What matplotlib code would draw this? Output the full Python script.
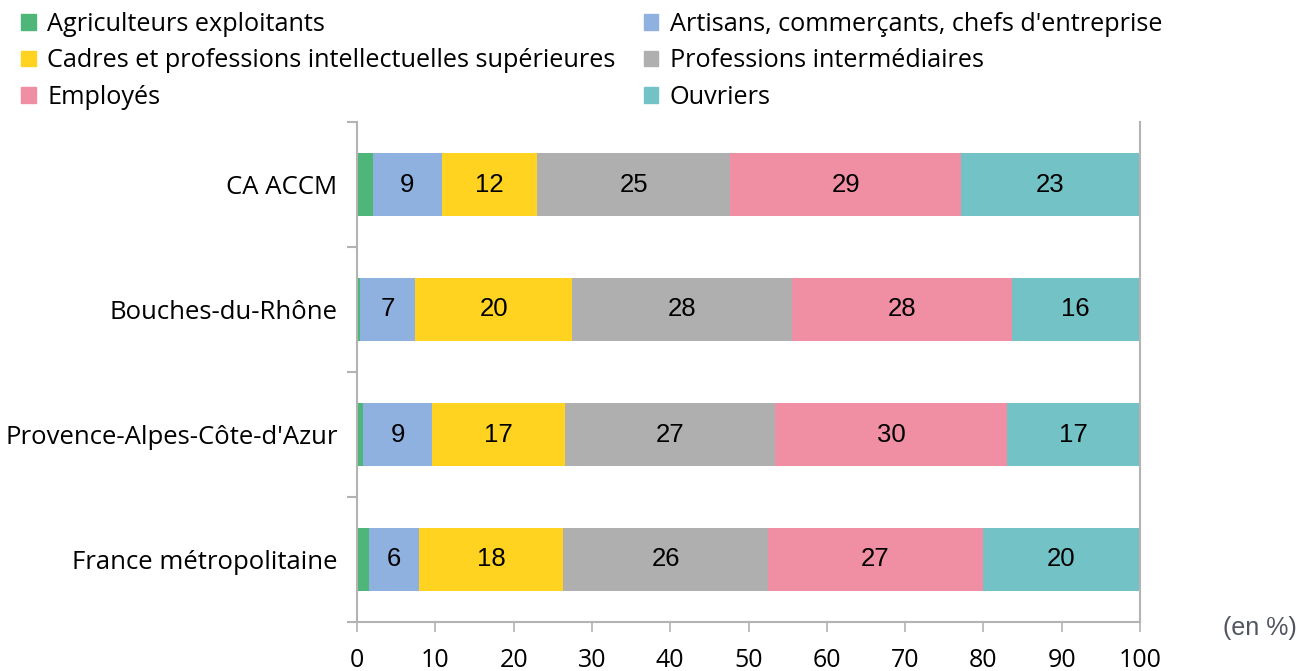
import numpy as np
import matplotlib.pyplot as plt
from matplotlib.patches import Patch

categories = ["CA ACCM", "Bouches-du-Rhône", "Provence-Alpes-Côte-d'Azur", "France métropolitaine"]
groups = ["Agriculteurs exploitants", "Artisans, commerçants, chefs d'entreprise",
          "Cadres et professions intellectuelles supérieures", "Professions intermédiaires",
          "Employés", "Ouvriers"]
agriculteurs = [2.0, 0.4, 0.8, 1.5]
artisans = [8.8, 7.0, 8.8, 6.4]
cadres = [12.2, 20.1, 17.0, 18.4]
prof_inter = [24.7, 28.0, 26.8, 26.2]
employes = [29.4, 28.1, 29.6, 27.4]
ouvriers = [22.9, 16.4, 17.0, 20.1]
colors = ["#4db678", "#8eb1e0", "#ffd320", "#b0afb0", "#f08fa3", "#73c2c6"]

series = [agriculteurs, artisans, cadres, prof_inter, employes, ouvriers]

fig = plt.figure(figsize=(12.98, 6.71), dpi=100)
ax = fig.add_axes([357/1298, 1-622/671, (1140-357)/1298, 500/671])

y = np.arange(len(categories))
left = np.zeros(len(categories))
for vals, col, name in zip(series, colors, groups):
    vals = np.array(vals)
    ax.barh(y, vals, left=left, height=0.5, color=col, label=name)
    for yi, (l, v) in enumerate(zip(left, vals)):
        if v >= 4:
            ax.text(l + v/2, yi, "%d" % round(v), ha="center", va="center",
                    fontsize=18.5, family="Liberation Sans", color="black")
    left += vals

ax.set_xlim(0, 100)
ax.set_ylim(3.5, -0.5)
ax.set_xticks(np.arange(0, 101, 10))
ax.set_yticks(y)
ax.set_yticklabels(categories, family="Open Sans", fontsize=18.5)
ax.set_yticks(np.arange(-0.5, 4, 1), minor=True)
for lab in ax.get_xticklabels():
    lab.set_family("Open Sans")
    lab.set_fontsize(18)

gray = "#b3b3b3"
ax.spines["top"].set_visible(False)
for s in ["left", "right", "bottom"]:
    ax.spines[s].set_color(gray)
    ax.spines[s].set_linewidth(1.5)
ax.tick_params(axis="y", which="major", length=0, pad=14)
ax.tick_params(axis="y", which="minor", length=7, width=1.5, color=gray)
ax.tick_params(axis="x", which="major", length=7.5, width=1.2, color=gray, pad=11)

fig.text(0.999, 1-628/671, "(en %)", ha="right", va="center", fontsize=18,
         family="Liberation Sans", color="#505560")

handles = [Patch(color=c) for c in colors]
order = [0, 2, 4, 1, 3, 5]
leg = fig.legend([handles[i] for i in order], [groups[i] for i in order],
                 loc="upper left", bbox_to_anchor=(-0.001, 1.016), ncol=2, frameon=False,
                 prop={"family": "Open Sans", "size": 18.2},
                 handlelength=0.56, handleheight=0.56, handletextpad=0.47,
                 columnspacing=1.1, labelspacing=0.45)

fig.savefig("out.png", dpi=100)
